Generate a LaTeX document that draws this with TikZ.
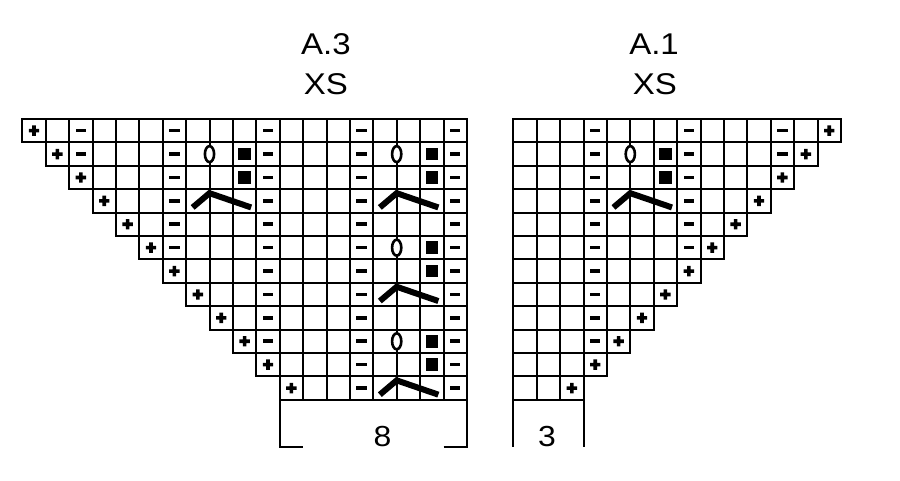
\documentclass[tikz,border=0pt]{standalone}
\usepackage{fontspec}
\setmainfont{Liberation Sans}
\newfontfamily\chartfont[FakeStretch=1.1]{Liberation Sans}
\usepackage{tikz}
\tikzset{
  gridline/.style={black, line width=2pt},
  charttitle/.style={font=\chartfont\fontsize{30}{36}\selectfont, inner sep=0pt},
  repeatcount/.style={font=\chartfont\fontsize{29}{35}\selectfont, inner sep=0pt}
}
\newcommand{\pluscell}[2]{\fill[black] (#1+0.5,#2+0.5) +(-5.2pt,-1.8pt) rectangle +(5.2pt,1.8pt) +(-1.8pt,-5.2pt) rectangle +(1.8pt,5.2pt);}
\newcommand{\minuscell}[2]{\fill[black] (#1+0.5,#2+0.5) +(-5.2pt,-1.8pt) rectangle +(5.2pt,1.8pt);}
\newcommand{\sqcell}[2]{\fill[black] (#1+0.5,#2+0.5) +(-6.3pt,-6.3pt) rectangle +(6.3pt,6.3pt);}
\newcommand{\ocell}[2]{\filldraw[black, fill=white, line width=2.6pt] (#1+1,#2+0.5) ellipse (4.6pt and 8pt);}
\newcommand{\deccell}[2]{\draw[black, line width=6pt, line join=miter] (#1+0.28,#2+0.78) -- (#1+1,#2+0.17) -- (#1+2.78,#2+0.78);}
\newcommand{\lacemotif}[2]{\ocell{#1}{#2}\sqcell{#1+2}{#2}\sqcell{#1+2}{#2+1}\deccell{#1}{#2+2}}

\begin{document}
\begin{tikzpicture}[x=23.4pt,y=-23.4pt]
\useasboundingbox (0,0) rectangle (38.4615,20.5128);
\node[charttitle] (titleA3) at (13.93,1.88) {A.3};
\node[charttitle] (sizeA3) at (13.93,3.59) {XS};
\node[charttitle] (titleA1) at (27.95,1.88) {A.1};
\node[charttitle] (sizeA1) at (27.99,3.59) {XS};

\begin{scope}[shift={(0.953,5.085)}]
\foreach \r in {0,...,11}
  \foreach \c in {\r,...,18}
    \draw[gridline] (\c,\r) rectangle +(1,1);
\foreach \r in {0,...,11} \pluscell{\r}{\r};
\foreach \r in {0,1} \minuscell{2}{\r};
\foreach \r in {0,...,5} \minuscell{6}{\r};
\foreach \r in {0,...,9} \minuscell{10}{\r};
\foreach \r in {0,...,11} {\minuscell{14}{\r} \minuscell{18}{\r}}
\lacemotif{7}{1}
\foreach \r in {1,5,9} \lacemotif{15}{\r};
\draw[gridline] (11,12) -- (11,14) -- (12,14);
\draw[gridline] (18,14) -- (19,14) -- (19,12);
\node[repeatcount] (countA3) at (15.39,13.59) {8};
\end{scope}

\begin{scope}[shift={(21.936,5.085)}]
\foreach \r in {0,...,11} {
  \pgfmathtruncatemacro\lastcol{13-\r}
  \foreach \c in {0,...,\lastcol}
    \draw[gridline] (\c,\r) rectangle +(1,1);
}
\foreach \r in {0,...,11} \pluscell{13-\r}{\r};
\foreach \r in {0,...,9} \minuscell{3}{\r};
\foreach \r in {0,...,5} \minuscell{7}{\r};
\foreach \r in {0,1} \minuscell{11}{\r};
\lacemotif{4}{1}
\draw[gridline] (0,12) -- (0,14);
\draw[gridline] (3,12) -- (3,14);
\node[repeatcount] (countA1) at (1.44,13.55) {3};
\end{scope}
\end{tikzpicture}
\end{document}
